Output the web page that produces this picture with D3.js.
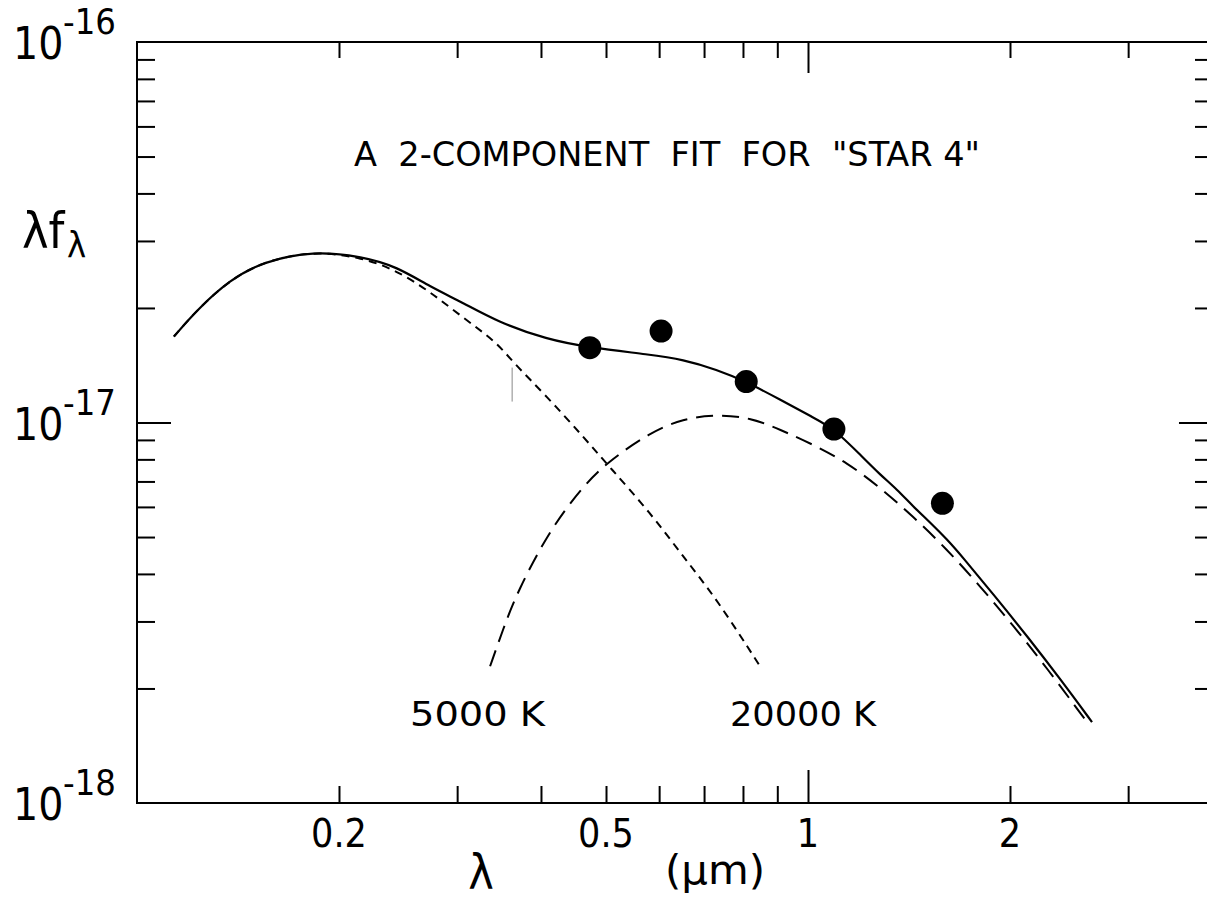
<!DOCTYPE html>
<html>
<head>
<meta charset="utf-8">
<script src="https://cdn.jsdelivr.net/npm/d3@7"></script>
<style>
    body { margin: 0; background: #fff; }
    text { font-family: "DejaVu Sans Condensed", "DejaVu Sans", sans-serif; fill: #000; white-space: pre; }
</style>
</head>
<body>
<div id="chart"></div>
<script>
// wavelength in micron, lambda*f_lambda in units of 1e-17
const FLUX_UNIT = 1e-17;

const fitWavelength = [0.1135, 0.1229, 0.1376, 0.1541, 0.1830, 0.2172, 0.2440, 0.2733, 0.3061, 0.3441,
    0.4083, 0.4733, 0.5814, 0.6512, 0.7317, 0.8085, 0.9084, 1.0173, 1.0930, 1.2075,
    1.2800, 1.3570, 1.4340, 1.5200, 1.6110, 1.696, 1.899, 2.128, 2.390, 2.650];
const fitFlux = [1.682, 1.979, 2.373, 2.646, 2.828, 2.727, 2.567, 2.275, 2.065, 1.841,
    1.652, 1.573, 1.508, 1.464, 1.377, 1.281, 1.149, 1.031, 0.9644, 0.8091,
    0.7303, 0.6671, 0.6020, 0.5464, 0.4931, 0.4449, 0.3495, 0.2727, 0.2090, 0.1632];

// 5000 K component (long dashes)
const coolWavelength = [0.3359, 0.3512, 0.3685, 0.4126, 0.4620, 0.5016, 0.5814, 0.6512, 0.7317, 0.8195,
    0.9084, 1.0173, 1.143, 1.280, 1.434, 1.611, 1.805, 2.021, 2.271, 2.605];
const coolFlux = [0.2288, 0.2862, 0.3579, 0.5238, 0.6792, 0.7852, 0.9414, 1.024, 1.049, 1.031,
    0.9585, 0.8755, 0.7852, 0.6753, 0.5666, 0.4642, 0.3713, 0.2932, 0.2261, 0.1632];

// 20000 K component (short dashes)
const hotWavelength = [0.1135, 0.1229, 0.1376, 0.1541, 0.1830, 0.2172, 0.2440, 0.2733, 0.3061, 0.3441,
    0.3623, 0.4083, 0.4620, 0.5069, 0.5814, 0.6512, 0.7317, 0.8481];
const hotFlux = [1.682, 1.979, 2.373, 2.646, 2.828, 2.711, 2.506, 2.207, 1.886, 1.622,
    1.446, 1.170, 0.9190, 0.7618, 0.5804, 0.4449, 0.3431, 0.2288];

// photometry
const obsWavelength = [0.473, 0.604, 0.809, 1.093, 1.586];
const obsFlux = [1.573, 1.739, 1.281, 0.961, 0.613];

const xMinorTicks = [0.2, 0.3, 0.4, 0.5, 0.6, 0.7, 0.8, 0.9, 2, 3];
const xMajorTicks = [1];
const xTickLabels = [0.2, 0.5, 1, 2];
const yMinorTicks = [2e-18, 3e-18, 4e-18, 5e-18, 6e-18, 7e-18, 8e-18, 9e-18,
    2e-17, 3e-17, 4e-17, 5e-17, 6e-17, 7e-17, 8e-17, 9e-17];
const yMajorTicks = [1e-17];
const yExponents = [-16, -17, -18];

const curveLabels = [
    {text: "5000 K", at: [0.2552, 0.159], len: 135},
    {text: "20000 K", at: [0.7652, 0.159], len: 146}
];

const width = 1207, height = 901;
const plot = {left: 137, top: 42, bottom: 803, decade: 671};

const svg = d3.select("#chart").append("svg")
    .attr("width", width)
    .attr("height", height);

const x = d3.scaleLog()
    .domain([0.1, 4])
    .range([plot.left, plot.left + plot.decade * Math.log10(40)]);

const y = d3.scaleLog()
    .domain([1e-18, 1e-16])
    .range([plot.bottom, plot.top]);

const right = x.range()[1];

// frame
svg.append("rect")
    .attr("x", plot.left)
    .attr("y", plot.top)
    .attr("width", right - plot.left)
    .attr("height", plot.bottom - plot.top)
    .attr("fill", "none")
    .attr("stroke", "#000")
    .attr("stroke-width", 2);

function tickAxis(axis, transform) {
    const g = svg.append("g")
        .attr("transform", transform)
        .call(axis.tickFormat(""));
    g.select(".domain").remove();
    g.selectAll("line").attr("stroke", "#000").attr("stroke-width", 2);
}

tickAxis(d3.axisBottom(x).tickValues(xMinorTicks).tickSize(-17), `translate(0,${plot.bottom})`);
tickAxis(d3.axisBottom(x).tickValues(xMajorTicks).tickSize(-33), `translate(0,${plot.bottom})`);
tickAxis(d3.axisTop(x).tickValues(xMinorTicks).tickSize(-16), `translate(0,${plot.top})`);
tickAxis(d3.axisTop(x).tickValues(xMajorTicks).tickSize(-31), `translate(0,${plot.top})`);
tickAxis(d3.axisLeft(y).tickValues(yMinorTicks).tickSize(-18), `translate(${plot.left},0)`);
tickAxis(d3.axisLeft(y).tickValues(yMajorTicks).tickSize(-34), `translate(${plot.left},0)`);
tickAxis(d3.axisRight(y).tickValues(yMinorTicks).tickSize(-17), `translate(${right},0)`);
tickAxis(d3.axisRight(y).tickValues(yMajorTicks).tickSize(-33), `translate(${right},0)`);

// x tick labels
svg.selectAll(".xlabel")
    .data(xTickLabels)
    .enter().append("text")
    .attr("class", "xlabel")
    .attr("x", d => x(d))
    .attr("y", plot.bottom + 44)
    .attr("text-anchor", "middle")
    .attr("font-size", 39)
    .text(d => d);

// y tick labels 10^n
yExponents.forEach(e => {
    const yy = y(Math.pow(10, e));
    svg.append("text")
        .attr("x", 13)
        .attr("y", yy + 17)
        .attr("font-size", 44)
        .text("10");
    svg.append("text")
        .attr("x", 63)
        .attr("y", yy - 8)
        .attr("font-size", 36)
        .text("-" + Math.abs(e));
});

// axis titles
svg.append("text")
    .attr("x", 22)
    .attr("y", 248)
    .attr("font-size", 50)
    .text("λf");
svg.append("text")
    .attr("x", 67)
    .attr("y", 257)
    .attr("font-size", 36)
    .text("λ");

svg.append("text")
    .attr("x", 481)
    .attr("y", 889)
    .attr("text-anchor", "middle")
    .attr("font-size", 48)
    .text("λ");
svg.append("text")
    .attr("x", 665)
    .attr("y", 884)
    .attr("font-size", 40)
    .attr("textLength", 100)
    .attr("lengthAdjust", "spacingAndGlyphs")
    .text("(μm)");

svg.append("text")
    .attr("x", 354)
    .attr("y", 166)
    .attr("font-size", 34)
    .attr("textLength", 626)
    .attr("lengthAdjust", "spacingAndGlyphs")
    .text("A  2-COMPONENT  FIT  FOR  \"STAR 4\"");

// curves
const line = d3.line()
    .x(d => x(d[0]))
    .y(d => y(d[1] * FLUX_UNIT))
    .curve(d3.curveBasis);

svg.append("path")
    .datum(d3.zip(hotWavelength, hotFlux))
    .attr("d", line)
    .attr("fill", "none")
    .attr("stroke", "#000")
    .attr("stroke-width", 2)
    .attr("stroke-dasharray", "8,6");

svg.append("path")
    .datum(d3.zip(coolWavelength, coolFlux))
    .attr("d", line)
    .attr("fill", "none")
    .attr("stroke", "#000")
    .attr("stroke-width", 2)
    .attr("stroke-dasharray", "17,9");

svg.append("path")
    .datum(d3.zip(fitWavelength, fitFlux))
    .attr("d", line)
    .attr("fill", "none")
    .attr("stroke", "#000")
    .attr("stroke-width", 2.2);

// small grey mark under the hot curve
svg.append("line")
    .attr("x1", x(0.3623)).attr("x2", x(0.3623))
    .attr("y1", y(1.394 * FLUX_UNIT)).attr("y2", y(1.135 * FLUX_UNIT))
    .attr("stroke", "#888")
    .attr("stroke-width", 1);

// photometric points
svg.selectAll(".obs")
    .data(d3.zip(obsWavelength, obsFlux))
    .enter().append("circle")
    .attr("class", "obs")
    .attr("cx", d => x(d[0]))
    .attr("cy", d => y(d[1] * FLUX_UNIT))
    .attr("r", 11.5)
    .attr("fill", "#000");

svg.selectAll(".clabel")
    .data(curveLabels)
    .enter().append("text")
    .attr("class", "clabel")
    .attr("x", d => x(d.at[0]))
    .attr("y", d => y(d.at[1] * FLUX_UNIT))
    .attr("font-size", 33)
    .attr("textLength", d => d.len)
    .attr("lengthAdjust", "spacingAndGlyphs")
    .text(d => d.text);
</script>
</body>
</html>
